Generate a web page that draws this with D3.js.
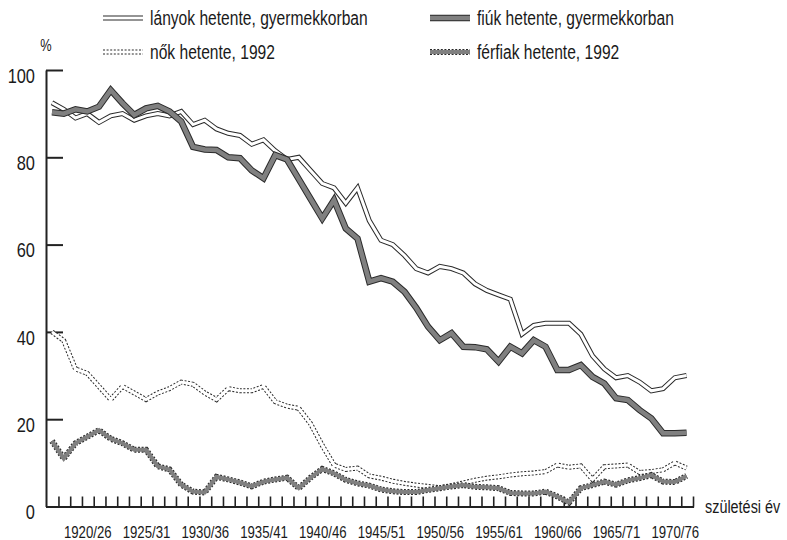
<!DOCTYPE html>
<html>
<head>
<meta charset="utf-8">
<script src="https://cdn.jsdelivr.net/npm/d3@7"></script>
<style>
body{margin:0;background:#fff;}
svg text{font-family:"Liberation Sans",Arial,sans-serif;fill:#1a1a1a;}
</style>
</head>
<body>
<svg id="chart"></svg>
<script>
// one value per birth cohort, 55 cohorts (1917/23 ... 1971/77)
var lanyok = [92.5,91,89,90,88,89.5,90,88.5,89.5,90,89.5,90.5,87.5,88.5,86.5,85.5,85,83,84,81.5,
    79.5,80,77,74,73,69.5,73,65.5,61,60,57.5,54.5,53.5,55,54.5,53.5,51,49.5,48.5,47.5,
    39.5,41.5,42,42,42,39.5,34.5,31.5,29.5,30,28.5,26.5,27,29.5,30];
var fiuk = [90.3,90,91,90.5,91.6,95.4,92.4,89.7,91.2,91.8,90.5,88.2,82.4,81.8,81.7,80,79.8,77,75.2,80.5,
    79.5,75,70.5,66,70.2,63.7,61.4,51.5,52.3,51.5,49.2,45.5,41.2,38.1,39.7,36.6,36.5,36,33.2,36.6,
    35.1,38.1,36.6,31.3,31.3,32.4,29.7,28.2,24.8,24.4,22.1,20.2,16.8,16.8,16.9];
var nok = [40,38,31.5,30.5,27.5,24.5,27.5,26,24.5,26,27,28.5,28,26,24.5,27,26.5,26.5,27.5,24,
    23,22.5,19,14,9.5,8.5,8.8,7,6.5,5.8,5.3,4.9,4.6,4.3,4.8,5.4,6,6.5,6.8,7.2,
    7.5,7.7,8,9.5,9,9.3,6.2,9.1,9.3,9.5,7.8,8,8.4,10,8.8];
var ferfiak = [15,11,14.5,16,17.5,15.5,14.5,13,13,9.2,8.5,5,3.4,3.2,6.8,6.2,5.5,4.6,5.7,6.2,
    6.6,4.2,6.6,8.6,7.6,6.1,5.3,4.8,3.9,3.5,3.3,3.3,3.8,4.2,4.6,4.9,4.5,4.4,4.2,3.1,
    3,3,3.4,2.3,0.9,4.2,4.9,5.7,5,6,6.5,7.2,5.7,5.6,7];

var tickLabels = ["1920/26","1925/31","1930/36","1935/41","1940/46","1945/51",
    "1950/56","1955/61","1960/66","1965/71","1970/76"];
var labelIndex = [3,8,13,18,23,28,33,38,43,48,53];
var yTicks = [0,20,40,60,80,100];

var legendNames = ["lányok hetente, gyermekkorban","fiúk hetente, gyermekkorban",
    "nők hetente, 1992","férfiak hetente, 1992"];

var styles = {
    lanyok:{outer:"#2a2a2a",inner:"#ffffff",ow:5,iw:3,dash:null},
    fiuk:{outer:"#2a2a2a",inner:"#808080",ow:6.5,iw:4.5,dash:null},
    nok:{outer:"#2a2a2a",inner:"#ffffff",ow:5,iw:3,dash:"2,1.6"},
    ferfiak:{outer:"#2a2a2a",inner:"#808080",ow:6,iw:4,dash:"2,1.6"}
}

// the original type is a condensed face, squeeze the glyphs
var narrow = 0.8


var drawDouble = function(g,pathData,st)
{
    g.append("path")
        .attr("d",pathData)
        .attr("fill","none")
        .attr("stroke",st.outer)
        .attr("stroke-width",st.ow)
        .attr("stroke-dasharray",st.dash)
        .attr("stroke-linejoin","miter")
    g.append("path")
        .attr("d",pathData)
        .attr("fill","none")
        .attr("stroke",st.inner)
        .attr("stroke-width",st.iw)
        .attr("stroke-linejoin","miter")
}


var initGraph = function(target)
{
    var screen = {width:787, height:540};

    var svg = d3.select(target)
        .attr("width",screen.width)
        .attr("height",screen.height)

    // index -0.51 sits on the y axis, 54.6 is the end of the x axis
    var xScale = d3.scaleLinear()
        .domain([-0.51,54.6])
        .range([46,693.6])

    var yScale = d3.scaleLinear()
        .domain([0,100])
        .range([506.5,70])

    //y axis, ticks point inward
    var yAxis = d3.axisLeft(yScale)
        .tickValues(yTicks)
        .tickSizeInner(-17)
        .tickSizeOuter(0)
        .tickPadding(11)
    var ya = svg.append("g")
        .attr("transform","translate(46,0)")
        .call(yAxis)
    ya.select(".domain").attr("stroke","#222").attr("stroke-width",2)
    ya.selectAll(".tick line").attr("stroke","#222").attr("stroke-width",2)
    ya.selectAll(".tick text")
        .attr("font-size",20.5)
        .attr("dy","0.6em")

    //x axis, small ticks upward
    var tickVals = d3.range(0,55).map(function(i){ return i+0.55; });
    var xAxis = d3.axisBottom(xScale)
        .tickValues(tickVals)
        .tickSizeInner(-10)
        .tickSizeOuter(0)
        .tickFormat("")
    var xa = svg.append("g")
        .attr("transform","translate(0,"+yScale(0)+")")
        .call(xAxis)
    xa.select(".domain").attr("stroke","#222").attr("stroke-width",2)
    xa.selectAll(".tick line").attr("stroke","#222").attr("stroke-width",1.6)

    var xLabels = d3.axisBottom(xScale)
        .tickValues(labelIndex)
        .tickSize(0)
        .tickPadding(20)
        .tickFormat(function(d,i){ return tickLabels[i]; })
    var xl = svg.append("g")
        .attr("transform","translate(0,"+yScale(0)+")")
        .call(xLabels)
    xl.select(".domain").remove()
    xl.selectAll("text").attr("font-size",16.5)

    svg.append("text")
        .attr("x",705)
        .attr("y",513)
        .attr("font-size",18)
        .text("születési év")

    svg.append("text")
        .attr("x",46)
        .attr("y",51)
        .attr("text-anchor","middle")
        .attr("font-size",16)
        .text("%")

    //lines
    var line = d3.line()
        .x(function(d,i){ return xScale(i); })
        .y(function(d){ return yScale(d); })

    var lg = svg.append("g").classed("graph",true)
    drawDouble(lg,line(nok),styles.nok)
    drawDouble(lg,line(ferfiak),styles.ferfiak)
    drawDouble(lg,line(lanyok),styles.lanyok)
    drawDouble(lg,line(fiuk),styles.fiuk)

    initLegend(svg)

    svg.selectAll("text").each(function()
    {
        var w = this.getComputedTextLength();
        d3.select(this)
            .attr("textLength",w*narrow)
            .attr("lengthAdjust","spacingAndGlyphs")
    })
}


var initLegend = function(svg)
{
    var items = [
        {name:legendNames[0],st:styles.lanyok,x:103,y:18},
        {name:legendNames[1],st:styles.fiuk,x:430,y:18},
        {name:legendNames[2],st:styles.nok,x:103,y:52},
        {name:legendNames[3],st:styles.ferfiak,x:430,y:52}
    ]
    var g = svg.append("g").classed("legend",true)
    items.forEach(function(it)
    {
        var p = "M"+it.x+","+it.y+"H"+(it.x+40)
        drawDouble(g,p,it.st)
        g.append("text")
            .attr("x",it.x+47)
            .attr("y",it.y+6.5)
            .attr("font-size",19.5)
            .text(it.name)
    })
}

initGraph("#chart");
</script>
</body>
</html>
